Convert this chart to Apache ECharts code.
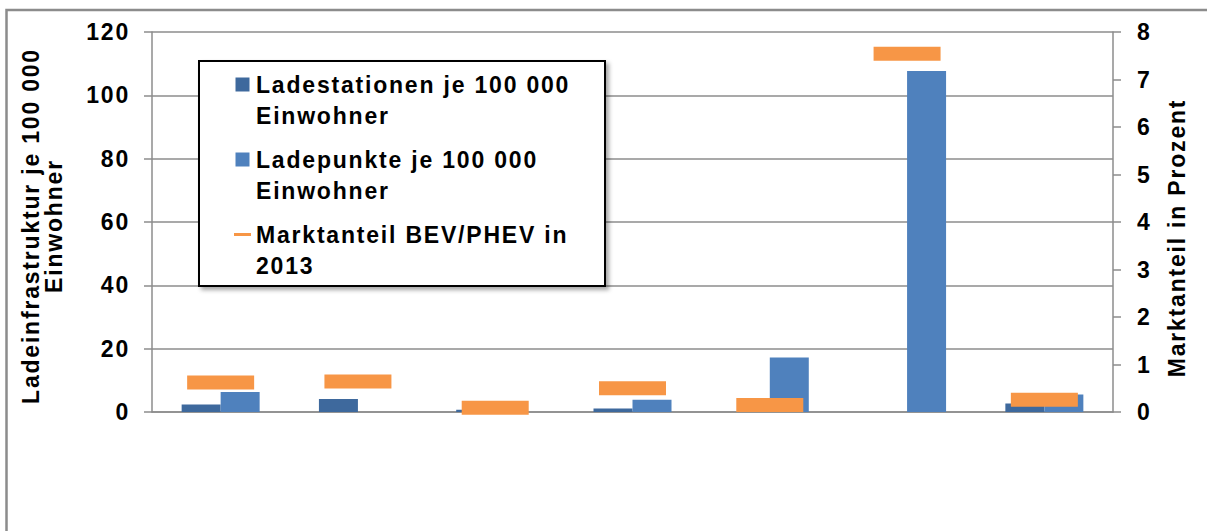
<!DOCTYPE html>
<html>
<head>
<meta charset="utf-8">
<script src="https://cdn.jsdelivr.net/npm/echarts@6/dist/echarts.min.js"></script>
<style>
  html, body { margin: 0; padding: 0; background: #ffffff; }
  #chart { width: 1207px; height: 531px; }
  /* the chart lettering is set wide */
  #chart text { letter-spacing: 1.8px; }
</style>
</head>
<body>
<div id="chart"></div>
<script>
// Seven regions compared; the region names are not printed on the axis.
const categories = ['1', '2', '3', '4', '5', '6', '7'];

// Charging stations per 100 000 inhabitants (left axis)
const ladestationen = [2.4, 4.1, 0.7, 1.1, null, null, 2.7];
// Charging points per 100 000 inhabitants (left axis)
const ladepunkte = [6.3, null, null, 3.9, 17.2, 107.7, 5.5];
// BEV/PHEV market share 2013 in percent (right axis)
const marktanteil = [0.62, 0.64, 0.09, 0.5, 0.15, 7.54, 0.26];

// Axis scales
const leftScale = { min: 0, max: 120, interval: 20 };
const rightScale = { min: 0, max: 8, interval: 1 };

const seriesNames = [
  'Ladestationen je 100 000 Einwohner',
  'Ladepunkte je 100 000 Einwohner',
  'Marktanteil BEV/PHEV in 2013'
];
const legendText = {
  'Ladestationen je 100 000 Einwohner': 'Ladestationen je 100 000\nEinwohner',
  'Ladepunkte je 100 000 Einwohner': 'Ladepunkte je 100 000\nEinwohner',
  'Marktanteil BEV/PHEV in 2013': 'Marktanteil BEV/PHEV in\n2013'
};

const FONT = '"Liberation Sans", Arial, Helvetica, sans-serif';
const FONT_SIZE = 23;
const GRID_COLOR = '#8c8c8c';
const DARK_BLUE = '#3e699d';
const BLUE = '#4f81bd';
const ORANGE = '#f79646';

// legend icons: a square or a dash aligned with the first text line
const squareIcon = 'path://M1.5,8.5h14v14h-14z M0,0 M17,62';
const dashIcon = 'path://M0,14h17v3h-17z M0,0 M17,62';

const chart = echarts.init(document.getElementById('chart'), null, { renderer: 'svg' });

chart.setOption({
  animation: false,
  backgroundColor: '#ffffff',
  textStyle: { fontFamily: FONT },
  graphic: [{
    type: 'rect',
    shape: { x: 6.5, y: 10, width: 1300, height: 700 },
    style: { fill: 'none', stroke: '#8c8c8c', lineWidth: 2.5 },
    silent: true,
    z: -10
  }],
  grid: { left: 152, right: 94, top: 32, bottom: 119, containLabel: false },
  legend: {
    orient: 'vertical',
    left: 199,
    top: 61,
    padding: [8, 78, 5, 35],
    itemWidth: 17,
    itemHeight: 62,
    itemGap: 13,
    backgroundColor: '#ffffff',
    borderColor: '#000000',
    borderWidth: 2,
    shadowColor: 'rgba(0,0,0,0.35)',
    shadowBlur: 4,
    shadowOffsetX: 3,
    shadowOffsetY: 3,
    selectedMode: false,
    textStyle: { fontFamily: FONT, fontSize: FONT_SIZE, fontWeight: 'bold', color: '#000', lineHeight: 31 },
    formatter: name => legendText[name],
    data: [
      { name: seriesNames[0], icon: squareIcon },
      { name: seriesNames[1], icon: squareIcon },
      { name: seriesNames[2], icon: dashIcon }
    ]
  },
  xAxis: {
    type: 'category',
    data: categories,
    boundaryGap: true,
    axisLine: { show: true, lineStyle: { color: GRID_COLOR, width: 1.5 } },
    axisTick: { show: false },
    axisLabel: { show: false },
    splitLine: { show: false }
  },
  yAxis: [{
    type: 'value',
    position: 'left',
    min: leftScale.min,
    max: leftScale.max,
    interval: leftScale.interval,
    name: 'Ladeinfrastruktur je 100 000\nEinwohner',
    nameLocation: 'middle',
    nameRotate: 90,
    nameGap: 87,
    nameTextStyle: { fontFamily: FONT, fontSize: FONT_SIZE, fontWeight: 'bold', color: '#000', lineHeight: 23, padding: [0, 8, 0, 0] },
    axisLine: { show: true, lineStyle: { color: GRID_COLOR, width: 1.5 } },
    axisTick: { show: true, inside: false, length: 8, lineStyle: { color: GRID_COLOR, width: 1.5 } },
    axisLabel: { margin: 22, fontFamily: FONT, fontSize: FONT_SIZE, fontWeight: 'bold', color: '#000' },
    splitLine: { show: true, lineStyle: { color: GRID_COLOR, width: 1.5 } }
  }, {
    type: 'value',
    position: 'right',
    min: rightScale.min,
    max: rightScale.max,
    interval: rightScale.interval,
    name: 'Marktanteil in Prozent',
    nameLocation: 'middle',
    nameRotate: 90,
    nameGap: 52,
    nameTextStyle: { fontFamily: FONT, fontSize: FONT_SIZE, fontWeight: 'bold', color: '#000', padding: [0, 32, 0, 0] },
    axisLine: { show: true, lineStyle: { color: GRID_COLOR, width: 1.5 } },
    axisTick: { show: true, inside: false, length: 8, lineStyle: { color: GRID_COLOR, width: 1.5 } },
    axisLabel: { margin: 24, fontFamily: FONT, fontSize: FONT_SIZE, fontWeight: 'bold', color: '#000' },
    splitLine: { show: false }
  }],
  series: [{
    name: seriesNames[0],
    type: 'bar',
    yAxisIndex: 0,
    data: ladestationen,
    barWidth: 39,
    barGap: '0%',
    itemStyle: { color: DARK_BLUE }
  }, {
    name: seriesNames[1],
    type: 'bar',
    yAxisIndex: 0,
    data: ladepunkte,
    barWidth: 39,
    barGap: '0%',
    itemStyle: { color: BLUE }
  }, {
    name: seriesNames[2],
    type: 'scatter',
    yAxisIndex: 1,
    data: marktanteil,
    symbol: 'rect',
    symbolSize: [67, 14],
    itemStyle: { color: ORANGE, opacity: 1 },
    z: 5
  }]
});
</script>
</body>
</html>
